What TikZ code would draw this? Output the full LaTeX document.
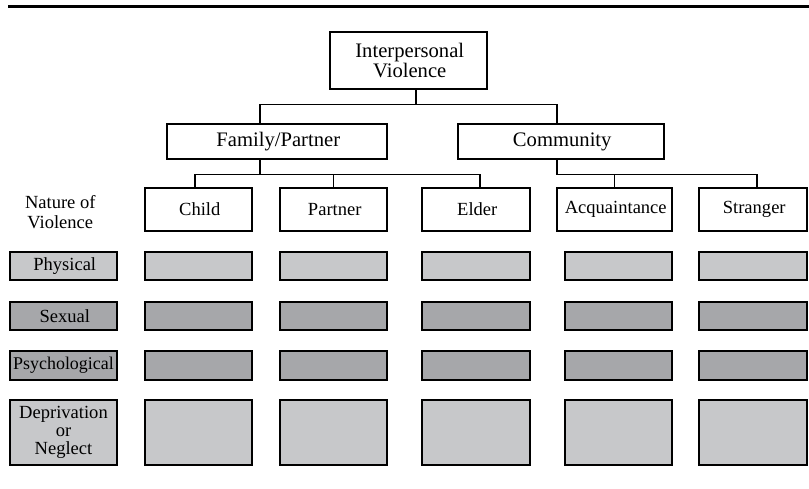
\documentclass[tikz,border=0pt]{standalone}
\usepackage{fontspec}
\setmainfont{Liberation Serif}
\usepackage{xcolor}
\definecolor{Light}{RGB}{199,200,202}
\definecolor{Dark}{RGB}{166,167,170}
\definecolor{Black}{RGB}{0,0,0}
\definecolor{White}{RGB}{255,255,255}
\newcommand{\cellFont}		{ \fontsize{18.6}{20}\selectfont }
\newcommand{\headFont}		{ \fontsize{20.7}{21}\selectfont }
\usepackage{tikz}

\tikzset{
	box/.style={draw=Black, fill=White, line width=1.4bp, inner sep=0pt, align=center, font=\cellFont},
	lightcell/.style={box, fill=Light},
	darkcell/.style={box, fill=Dark},
	link/.style={draw=Black, line width=1.4bp},
}

\begin{document}
\begin{tikzpicture}[x=1bp, y=-1bp]

		\useasboundingbox (0,0) rectangle (809,489);

		% Rule
		\draw[line width=3bp] (8,7) -- (809,7);

		% Hierarchy
		\node[box, font=\headFont, minimum width=157bp, minimum height=57bp] (root) at (408.5,60.5) {Interpersonal\\Violence};
		\node[box, font=\headFont, minimum width=220bp, minimum height=35bp] (family) at (277,141.5) {Family/Partner};
		\node[box, font=\headFont, minimum width=206bp, minimum height=35bp] (community) at (561,141.5) {Community};

		\node[box, minimum width=107bp, minimum height=43bp] (child) at (198.5,209.5) {Child};
		\node[box, minimum width=107bp, minimum height=43bp] (partner) at (333.5,209.5) {Partner};
		\node[box, minimum width=108bp, minimum height=43bp] (elder) at (476,209.5) {Elder};
		\node[box, minimum width=115bp, minimum height=43bp] (acquaint) at (614.5,209.5) {Acquaintance};
		\node[box, minimum width=108bp, minimum height=43bp] (stranger) at (753,209.5) {Stranger};

		% Lines
		\draw[link] ([xshift=7.5bp]root.south) -- ++(0,15) -| ([xshift=-17bp]family.north);
		\draw[link] ([xshift=7.5bp]root.south) -- ++(0,15) -| ([xshift=-4bp]community.north);
		\draw[link] ([xshift=-17bp]family.south) -- ++(0,15) -| ([xshift=-3.5bp]child.north);
		\draw[link] ([xshift=-17bp]family.south) -- ++(0,15) -| (partner.north);
		\draw[link] ([xshift=-17bp]family.south) -- ++(0,15) -| ([xshift=4bp]elder.north);
		\draw[link] ([xshift=-4bp]community.south) -- ++(0,15) -| (acquaint.north);
		\draw[link] ([xshift=-4bp]community.south) -- ++(0,15) -| ([xshift=4bp]stranger.north);

		% Row labels
		\node[align=center, font=\cellFont] (nature) at (59,212) {Nature of\\Violence};
		\node[lightcell, minimum width=107bp, minimum height=28bp] (physical) at (63.5,266) {Physical};
		\node[darkcell, minimum width=107bp, minimum height=28bp] (sexual) at (63.5,316) {Sexual};
		\node[darkcell, font=\fontsize{18}{20}\selectfont, minimum width=107bp, minimum height=29bp] (psycho) at (63.5,365.5) {Psychological};
		\node[lightcell, font=\fontsize{18.6}{18}\selectfont, minimum width=107bp, minimum height=65bp] (neglect) at (63.5,432.5) {Deprivation\\or\\Neglect};

		% Physical
		\node[lightcell, minimum width=107bp, minimum height=28bp] (phys-child) at (198.5,266) {};
		\node[lightcell, minimum width=107bp, minimum height=28bp] (phys-partner) at (333.5,266) {};
		\node[lightcell, minimum width=108bp, minimum height=28bp] (phys-elder) at (476,266) {};
		\node[lightcell, minimum width=107bp, minimum height=28bp] (phys-acquaint) at (618.5,266) {};
		\node[lightcell, minimum width=108bp, minimum height=28bp] (phys-stranger) at (753,266) {};

		% Sexual
		\node[darkcell, minimum width=107bp, minimum height=28bp] (sex-child) at (198.5,316) {};
		\node[darkcell, minimum width=107bp, minimum height=28bp] (sex-partner) at (333.5,316) {};
		\node[darkcell, minimum width=108bp, minimum height=28bp] (sex-elder) at (476,316) {};
		\node[darkcell, minimum width=107bp, minimum height=28bp] (sex-acquaint) at (618.5,316) {};
		\node[darkcell, minimum width=108bp, minimum height=28bp] (sex-stranger) at (753,316) {};

		% Psychological
		\node[darkcell, minimum width=107bp, minimum height=29bp] (psy-child) at (198.5,365.5) {};
		\node[darkcell, minimum width=107bp, minimum height=29bp] (psy-partner) at (333.5,365.5) {};
		\node[darkcell, minimum width=108bp, minimum height=29bp] (psy-elder) at (476,365.5) {};
		\node[darkcell, minimum width=107bp, minimum height=29bp] (psy-acquaint) at (618.5,365.5) {};
		\node[darkcell, minimum width=108bp, minimum height=29bp] (psy-stranger) at (753,365.5) {};

		% Deprivation or Neglect
		\node[lightcell, minimum width=107bp, minimum height=65bp] (neg-child) at (198.5,432.5) {};
		\node[lightcell, minimum width=107bp, minimum height=65bp] (neg-partner) at (333.5,432.5) {};
		\node[lightcell, minimum width=108bp, minimum height=65bp] (neg-elder) at (476,432.5) {};
		\node[lightcell, minimum width=107bp, minimum height=65bp] (neg-acquaint) at (618.5,432.5) {};
		\node[lightcell, minimum width=108bp, minimum height=65bp] (neg-stranger) at (753,432.5) {};

	\end{tikzpicture}
\end{document}
